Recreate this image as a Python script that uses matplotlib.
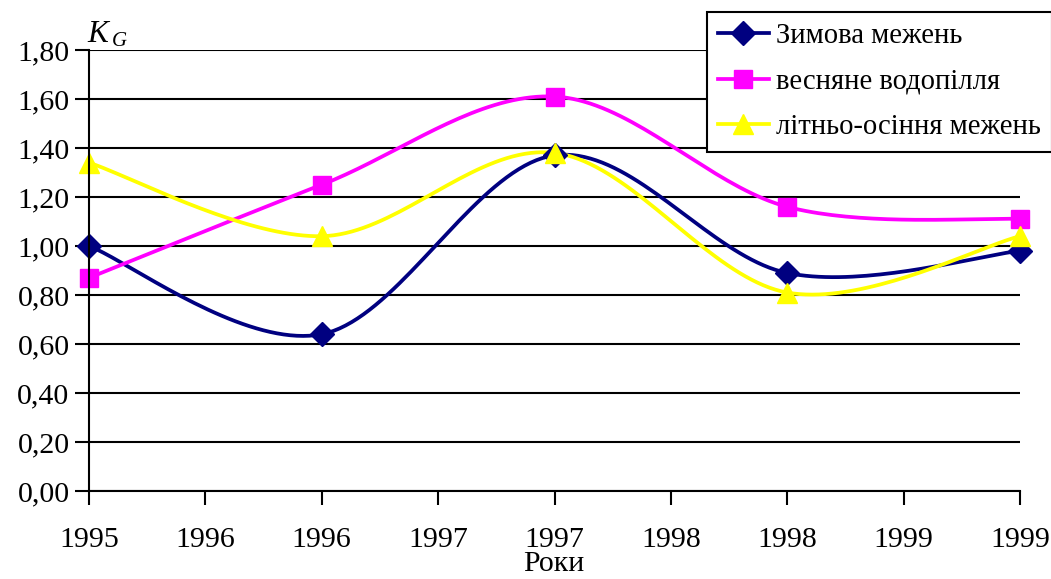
import numpy as np
import matplotlib.pyplot as plt
from matplotlib.ticker import FixedLocator, FuncFormatter

# values per season, years 1995..1999
years = [1995, 1996, 1997, 1998, 1999]
winter_low = [1.00, 0.64, 1.37, 0.89, 0.98]
spring_flood = [0.87, 1.25, 1.61, 1.16, 1.11]
summer_low = [1.34, 1.04, 1.38, 0.81, 1.04]

series_names = ["Зимова межень", "весняне водопілля", "літньо-осіння межень"]


def smooth(x, y, steps=40):
    # cubic bezier through the points, catmull-rom style tangents
    x = np.asarray(x, float)
    y = np.asarray(y, float)
    n = len(x)
    xs, ys = [], []
    for i in range(n - 1):
        p0 = np.array([x[max(i - 1, 0)], y[max(i - 1, 0)]])
        p1 = np.array([x[i], y[i]])
        p2 = np.array([x[i + 1], y[i + 1]])
        p3 = np.array([x[min(i + 2, n - 1)], y[min(i + 2, n - 1)]])
        c1 = p1 + (p2 - p0) / 6
        c2 = p2 - (p3 - p1) / 6
        t = np.linspace(0, 1, steps)[:, None]
        pts = ((1 - t) ** 3) * p1 + 3 * ((1 - t) ** 2) * t * c1 + 3 * (1 - t) * t ** 2 * c2 + t ** 3 * p2
        xs.extend(pts[:, 0])
        ys.extend(pts[:, 1])
    return xs, ys


plt.rcParams['font.family'] = ['Liberation Serif', 'DejaVu Serif']
fs = 21.5

fig = plt.figure(figsize=(10.51, 5.79), dpi=100)
ax = fig.add_axes([89 / 1051, 1 - 491 / 579, (1020 - 89) / 1051, (491 - 50) / 579])

styles = [
    dict(color='#000080', marker='D', ms=12),
    dict(color='#ff00ff', marker='s', ms=13.5),
    dict(color='#ffff00', marker='^', ms=15),
]

for vals, name, st in zip([winter_low, spring_flood, summer_low], series_names, styles):
    sx, sy = smooth(years, vals)
    ax.plot(sx, sy, color=st['color'], lw=2.7, zorder=3, solid_capstyle='round')
    ax.plot(years, vals, linestyle='none', marker=st['marker'], ms=st['ms'],
            color=st['color'], mec=st['color'], zorder=4, clip_on=False)
    # proxy for the legend: line with one marker
    ax.plot([], [], color=st['color'], lw=2.7, marker=st['marker'], ms=st['ms'], label=name)

ax.set_xlim(1995, 1999)
ax.set_ylim(0, 1.8)

ax.xaxis.set_major_locator(FixedLocator(np.arange(1995, 1999.01, 0.5)))
ax.xaxis.set_major_formatter(FuncFormatter(lambda v, p: "%d" % int(v + 0.5)))
yticks = np.arange(0, 1.81, 0.2)
ax.set_yticks(yticks)
ax.set_yticklabels([("%.2f" % v).replace('.', ',') for v in yticks])

ax.tick_params(axis='both', labelsize=fs, length=10, width=1.5, direction='out', color='black')
ax.tick_params(axis='x', pad=16)
ax.tick_params(axis='y', pad=4)

ax.yaxis.grid(True, color='black', lw=1.5)
ax.set_axisbelow(True)
for s in ['top', 'right']:
    ax.spines[s].set_visible(False)
for s in ['left', 'bottom']:
    ax.spines[s].set_linewidth(1.5)
    ax.spines[s].set_zorder(5)

# axis captions
fig.text(554 / 1051, 2 / 579, "Роки", fontsize=fs, ha='center', va='bottom')
fig.text(87 / 1051, 1 - 42 / 579, "K", fontsize=fs + 1, style='italic', ha='left', va='baseline')
fig.text(112 / 1051, 1 - 46 / 579, "G", fontsize=15, style='italic', ha='left', va='baseline')

leg = fig.legend(loc='upper left', bbox_to_anchor=(707 / 1051, 1 - 12 / 579),
                 fontsize=20.6, frameon=True, fancybox=False, framealpha=1, numpoints=1,
                 handlelength=1.75, handletextpad=0.25, labelspacing=0.68,
                 borderpad=0.4, borderaxespad=0)
leg.get_frame().set_edgecolor('black')
leg.get_frame().set_linewidth(1.5)

fig.savefig("out.png", dpi=100)
